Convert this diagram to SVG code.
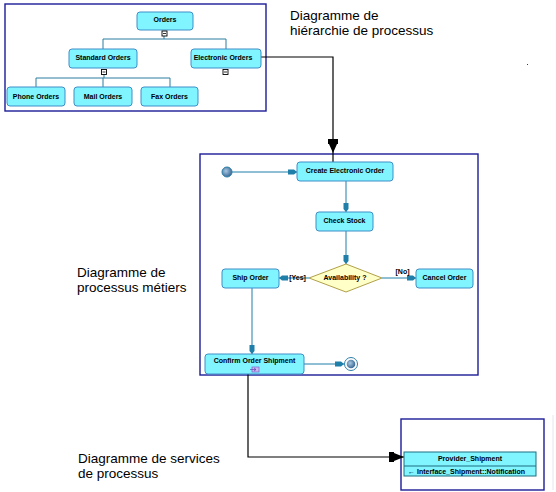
<svg xmlns="http://www.w3.org/2000/svg" width="556" height="492" viewBox="0 0 556 492">
<style>
.frame{fill:#fff;stroke:#1c1c98;stroke-width:1.4}
.node{fill:#80F4FF;stroke:#3F8FC8;stroke-width:1}
.nt{font-family:"Liberation Sans",Arial,sans-serif;font-size:7px;font-weight:bold;fill:#000;text-anchor:middle}
.lbl{font-family:"Liberation Sans",Arial,sans-serif;font-size:13.5px;fill:#000}
.hc{fill:none;stroke:#2a7fa0;stroke-width:1}
.ac{fill:none;stroke:#1f7fa8;stroke-width:1}
.bc{fill:none;stroke:#000;stroke-width:1.2}
.tog{fill:#fff;stroke:#000;stroke-width:0.9}
</style>
<defs>
<marker id="ta" markerUnits="userSpaceOnUse" markerWidth="10" markerHeight="8" refX="9" refY="3" orient="auto">
<path d="M0,0.5 L6,0.5 L9,3 L6,5.5 L0,5.5 Z" fill="#1f7fa8"/>
</marker>
<marker id="ba" markerUnits="userSpaceOnUse" markerWidth="26" markerHeight="12" refX="15" refY="5" orient="auto">
<path d="M0,0 L5,0 L5,1 L15,5 L5,9 L5,10 L0,10 Z" fill="#000"/>
</marker>
<marker id="ba2" markerUnits="userSpaceOnUse" markerWidth="26" markerHeight="12" refX="23" refY="5" orient="auto">
<path d="M0,0 L5,0 L5,1 L14,5 L5,9 L5,10 L0,10 Z" fill="#000"/>
</marker>
<radialGradient id="ig" cx="0.4" cy="0.4" r="0.6">
<stop offset="0" stop-color="#a8c8e0"/>
<stop offset="1" stop-color="#3a6a98"/>
</radialGradient>
</defs>

<g id="frames">
<rect class="frame" x="5" y="4" width="261" height="107"/>
<rect class="frame" x="200" y="154" width="278" height="221"/>
<rect class="frame" x="401" y="419" width="143" height="71"/>
<line x1="553" y1="415" x2="553" y2="490" stroke="#e4e4ee" stroke-width="1"/>
<rect x="527" y="64" width="1" height="1" fill="#3030a0"/>
</g>

<g id="labels">
<text class="lbl" x="290" y="20">Diagramme de</text>
<text class="lbl" x="290" y="35">hiérarchie de processus</text>
<text class="lbl" x="77" y="277">Diagramme de</text>
<text class="lbl" x="77" y="292">processus métiers</text>
<text class="lbl" x="78" y="463">Diagramme de services</text>
<text class="lbl" x="78" y="478">de processus</text>
</g>

<g id="connectors">
<path class="hc" d="M164,36 V39 M103,49 V39 H226 V49"/>
<path class="hc" d="M104,74 V78 M36,87 V78 H170 V87 M103,78 V87"/>
<path class="bc" d="M253,57 H333 V162" marker-end="url(#ba2)"/>
<path class="ac" d="M232,172 H297" marker-end="url(#ta)"/>
<path class="ac" d="M346,181 V212" marker-end="url(#ta)"/>
<path class="ac" d="M346,231 V264" marker-end="url(#ta)"/>
<path class="ac" d="M309,278 H279" marker-end="url(#ta)"/>
<path class="ac" d="M382,278 H416" marker-end="url(#ta)"/>
<path class="ac" d="M252,288 V354" marker-end="url(#ta)"/>
<path class="ac" d="M304,364 H344" marker-end="url(#ta)"/>
<path class="bc" d="M248,371 V457 H404" marker-end="url(#ba)"/>
</g>

<g id="n-orders"><rect class="node" x="137" y="12" width="56" height="18" rx="3"/><text class="nt" x="165" y="21.5">Orders</text>
<rect class="tog" x="162" y="31" width="5" height="5"/><line x1="163" y1="33.5" x2="166" y2="33.5" stroke="#000" stroke-width="0.8"/></g>
<g id="n-standard"><rect class="node" x="69" y="49" width="68" height="19" rx="3"/><text class="nt" x="103" y="59.5">Standard Orders</text>
<rect class="tog" x="101.5" y="69.5" width="5" height="5"/><line x1="102.5" y1="72" x2="105.5" y2="72" stroke="#000" stroke-width="0.8"/></g>
<g id="n-electronic"><rect class="node" x="191" y="49" width="70" height="19" rx="3"/><text class="nt" x="223" y="59.5">Electronic Orders</text>
<rect class="tog" x="223" y="69.5" width="5" height="5"/><line x1="224" y1="72" x2="227" y2="72" stroke="#000" stroke-width="0.8"/></g>
<g id="n-phone"><rect class="node" x="7" y="87" width="58" height="19" rx="3"/><text class="nt" x="36" y="98.5">Phone Orders</text></g>
<g id="n-mail"><rect class="node" x="74" y="87" width="58" height="19" rx="3"/><text class="nt" x="103" y="98.5">Mail Orders</text></g>
<g id="n-fax"><rect class="node" x="141" y="87" width="57" height="19" rx="3"/><text class="nt" x="169.5" y="98.5">Fax Orders</text></g>

<g id="n-start"><circle cx="227" cy="172" r="5" fill="url(#ig)" stroke="#2f7fa8" stroke-width="1"/></g>
<g id="n-create"><rect class="node" x="297" y="162" width="96" height="19" rx="3"/><text class="nt" x="345" y="172.5">Create  Electronic Order</text></g>
<g id="n-check"><rect class="node" x="316" y="212" width="57" height="19" rx="3"/><text class="nt" x="344.5" y="222.5">Check Stock</text></g>
<g id="n-decision"><polygon points="346,264 382,278 346,292 309,278" fill="#FFFFC8" stroke="#b0a048" stroke-width="1"/><text class="nt" x="345" y="279.5">Availability ?</text></g>
<g id="n-ship"><rect class="node" x="222" y="269" width="57" height="19" rx="3"/><text class="nt" x="250.5" y="279.5">Ship Order</text></g>
<g id="n-cancel"><rect class="node" x="416" y="269" width="57" height="19" rx="3"/><text class="nt" x="444.5" y="279.5">Cancel Order</text></g>
<g id="n-confirm"><rect class="node" x="205" y="354" width="99" height="20" rx="3"/><text class="nt" x="254.5" y="362.5">Confirm Order Shipment</text>
<rect x="252" y="367" width="7" height="5" fill="#c8b8f0" stroke="#7a60c8" stroke-width="0.7"/><path d="M250,369.5 H256 M254,368 L256,369.5 L254,371" fill="none" stroke="#6040b0" stroke-width="0.7"/></g>
<g id="n-end"><circle cx="351" cy="364" r="6.5" fill="#fff" stroke="#2f7fa8" stroke-width="1"/><circle cx="351" cy="364" r="4.3" fill="url(#ig)"/></g>

<text class="nt" x="297.5" y="279.5">[Yes]</text>
<text class="nt" x="402.5" y="274">[No]</text>

<g id="n-provider">
<rect x="404" y="452" width="132" height="24" fill="#80F4FF" stroke="#1f6f80" stroke-width="1"/>
<line x1="404" y1="466" x2="536" y2="466" stroke="#1f6f80" stroke-width="1"/>
<text class="nt" x="470" y="460.5">Provider_Shipment</text>
<text class="nt" x="408" y="474" style="text-anchor:start">←  Interface_Shipment::Notification</text>
</g>
</svg>
